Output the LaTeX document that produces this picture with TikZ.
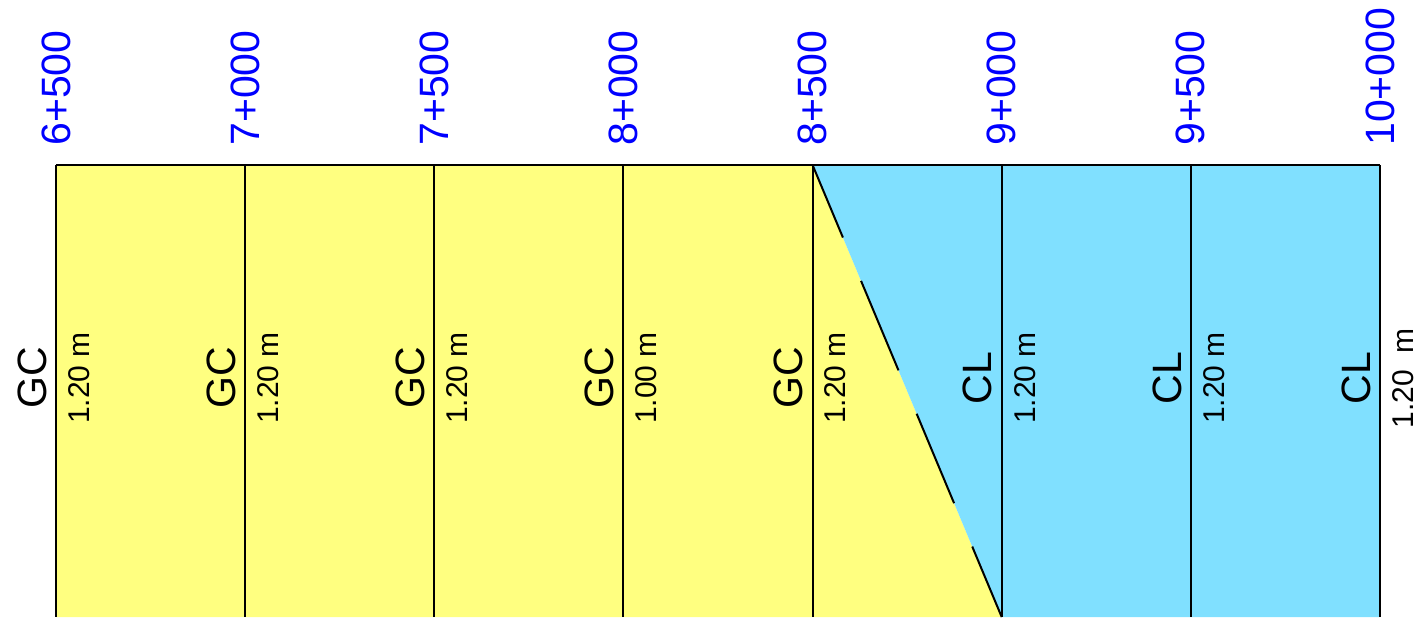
\documentclass[tikz,border=0pt]{standalone}
\usepackage{fontspec}
\setmainfont{Liberation Sans}
\definecolor{gcfill}{RGB}{255,255,128}
\definecolor{clfill}{RGB}{128,224,255}
\definecolor{chain}{RGB}{0,0,255}
\tikzset{
  station/.style={rotate=90, anchor=west, inner sep=0pt,
    text=chain, font=\fontsize{20.5}{24}\selectfont},
  soil/.style={rotate=90, anchor=south, inner sep=0pt,
    font=\fontsize{20.5}{24}\selectfont},
  depth/.style={rotate=90, anchor=north, inner sep=0pt,
    font=\fontsize{15}{18}\selectfont},
  gridline/.style={line width=1pt, black},
  boundary/.style={line width=1pt,
    dash pattern=on 48.5pt off 23.5pt, dash phase=9.2pt},
}
\begin{document}
\begin{tikzpicture}[x=0.5pt, y=-0.5pt]
\useasboundingbox (0,0) rectangle (1423,617);
\foreach \i in {0,...,7}{
  \coordinate (t\i) at ({56+189.14*\i},165);
  \coordinate (b\i) at ({56+189.14*\i},617);
}
% layers
\fill[gcfill] (t0) -- (t4) -- (b5) -- (b0) -- cycle;
\fill[clfill] (t4) -- (t7) -- (b7) -- (b5) -- cycle;
% section lines
\draw[gridline] (t0) -- (t7);
\foreach \i in {0,...,7}{
  \draw[gridline] (t\i) -- (b\i);
}
\draw[boundary] (t4) -- (b5);
% chainages and layer labels
\foreach \i/\km/\soil/\h in {
    0/6+500/GC/1.20,
    1/7+000/GC/1.20,
    2/7+500/GC/1.20,
    3/8+000/GC/1.00,
    4/8+500/GC/1.20,
    5/9+000/CL/1.20,
    6/9+500/CL/1.20,
    7/10+000/CL/1.20
  }{
  \pgfmathsetmacro\xx{56+189.14*\i}
  \node[station] (km\i) at (\xx,146) {\km};
  \node[soil] (soil\i) at (\xx-9,378) {\soil};
  \node[depth] (dep\i) at (\xx+12,378) {\h{} m};
}
\end{tikzpicture}
\end{document}
